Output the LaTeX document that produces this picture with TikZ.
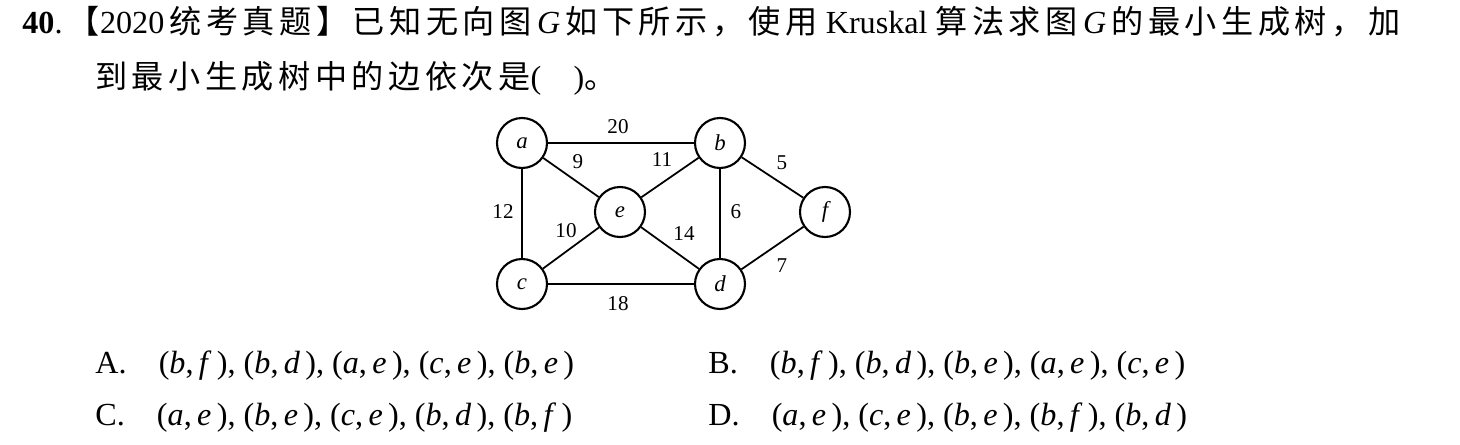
\documentclass[tikz,border=0pt]{standalone}
\usepackage{fontspec}
\setmainfont{Liberation Serif}
\newfontfamily\cjk[LetterSpace=14]{Noto Sans CJK SC}
\newcommand{\pr}[2]{(\textit{#1},\,\textit{#2}\,)}
\begin{document}
\begin{tikzpicture}[x=0.02cm,y=-0.02cm,
  v/.style={circle,draw,line width=1.2pt,minimum size=50*0.02cm,inner sep=0pt,font=\fontsize{13}{15}\selectfont\itshape},
  lab/.style={font=\fontsize{12}{14}\selectfont},
  txt/.style={anchor=west,inner sep=0pt,font=\fontsize{18.3}{21}\selectfont},
  e/.style={line width=1pt}]
\useasboundingbox (0,0) rectangle (1460,444);
\node[txt] (l1) at (22,22) {\textbf{40}.\,{\cjk 【}2020\,{\cjk 统考真题】已知无向图}\,\textit{G}\,{\cjk 如下所示，使用} Kruskal {\cjk 算法求图}\,\textit{G}\,{\cjk 的最小生成树，加}};
\node[txt] (l2) at (95,78) {{\cjk 到最小生成树中的边依次是}(\quad){\cjk 。}};
\node[v] (a) at (522,143) {a};
\node[v] (b) at (720,143) {b};
\node[v] (e) at (620,212) {e};
\node[v] (f) at (825,212) {f};
\node[v] (c) at (522,284) {c};
\node[v] (d) at (720,284) {d};
\draw[e] (a)--(b) (a)--(e) (e)--(b) (b)--(f) (a)--(c) (c)--(e) (e)--(d) (b)--(d) (d)--(f) (c)--(d);
\node[lab] (w1) at (618,127) {20};
\node[lab] (w2) at (578,162) {9};
\node[lab] (w3) at (662,160) {11};
\node[lab] (w4) at (782,163) {5};
\node[lab] (w5) at (503,212) {12};
\node[lab] (w6) at (566,231) {10};
\node[lab] (w7) at (684,234) {14};
\node[lab] (w8) at (736,212) {6};
\node[lab] (w9) at (782,266) {7};
\node[lab] (w10) at (618,304) {18};
\node[txt] (oA) at (95,366) {A.\quad\pr{b}{f}, \pr{b}{d}, \pr{a}{e}, \pr{c}{e}, \pr{b}{e}};
\node[txt] (oB) at (708,366) {B.\quad\pr{b}{f}, \pr{b}{d}, \pr{b}{e}, \pr{a}{e}, \pr{c}{e}};
\node[txt] (oC) at (95,418) {C.\quad\pr{a}{e}, \pr{b}{e}, \pr{c}{e}, \pr{b}{d}, \pr{b}{f}};
\node[txt] (oD) at (708,418) {D.\quad\pr{a}{e}, \pr{c}{e}, \pr{b}{e}, \pr{b}{f}, \pr{b}{d}};
\end{tikzpicture}
\end{document}
